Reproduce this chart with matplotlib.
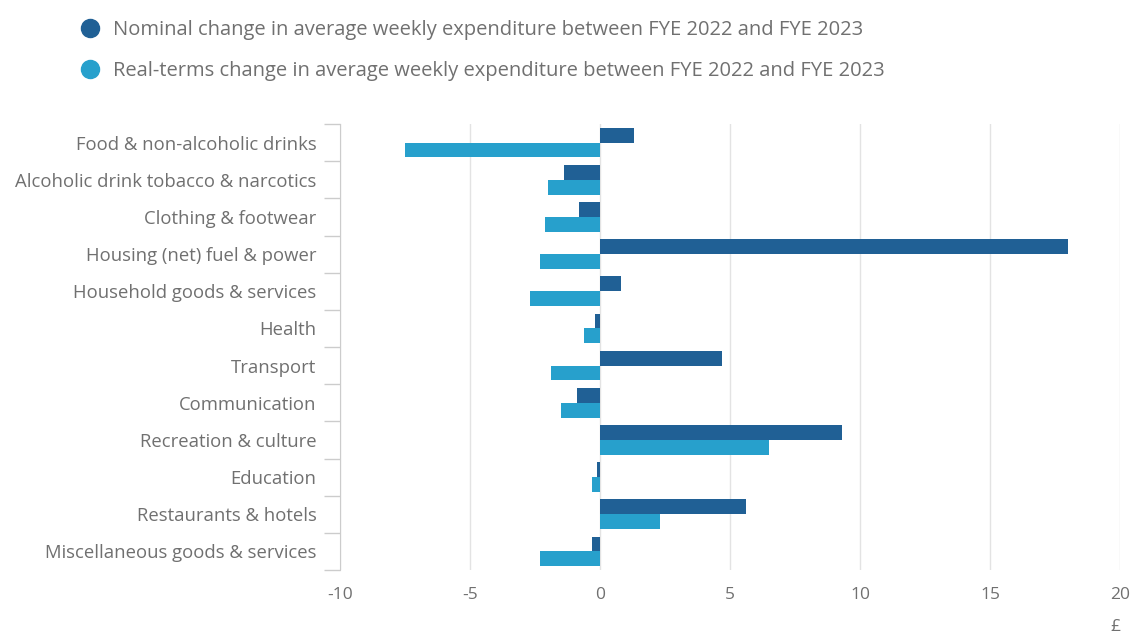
import numpy as np
import matplotlib.pyplot as plt
from matplotlib.lines import Line2D

plt.rcParams['font.family'] = ['Open Sans', 'DejaVu Sans']

# weekly expenditure change by COICOP category (£)
categories = [
    "Food & non-alcoholic drinks",
    "Alcoholic drink tobacco & narcotics",
    "Clothing & footwear",
    "Housing (net) fuel & power",
    "Household goods & services",
    "Health",
    "Transport",
    "Communication",
    "Recreation & culture",
    "Education",
    "Restaurants & hotels",
    "Miscellaneous goods & services",
]
nominal = [1.3, -1.4, -0.8, 18.0, 0.8, -0.2, 4.7, -0.9, 9.3, -0.1, 5.6, -0.3]
real = [-7.5, -2.0, -2.1, -2.3, -2.7, -0.6, -1.9, -1.5, 6.5, -0.3, 2.3, -2.3]

series_labels = [
    "Nominal change in average weekly expenditure between FYE 2022 and FYE 2023",
    "Real-terms change in average weekly expenditure between FYE 2022 and FYE 2023",
]
x_ticks = [-10, -5, 0, 5, 10, 15, 20]

dark = '#206095'
light = '#27a0cc'
grey = '#707070'

fig = plt.figure(figsize=(11.32, 6.37), dpi=100)
ax = fig.add_axes([340 / 1132, 1 - 570 / 637, 780 / 1132, 446 / 637])

y = np.arange(len(categories))
h = 0.4
ax.barh(y - h / 2, nominal, height=h, color=dark, zorder=3)
ax.barh(y + h / 2, real, height=h, color=light, zorder=3)

ax.set_xlim(-10, 20)
ax.set_ylim(len(categories) - 0.5, -0.5)
ax.set_xticks(x_ticks)
ax.set_xticklabels([str(t) for t in x_ticks])
ax.grid(axis='x', color='#e3e3e3', linewidth=1, zorder=0)

ax.set_yticks(y)
ax.set_yticklabels(categories)
ax.set_yticks(np.arange(len(categories) + 1) - 0.5, minor=True)
ax.tick_params(axis='y', which='major', length=0, pad=17, labelsize=13.3, labelcolor=grey)
ax.tick_params(axis='y', which='minor', length=11.5, color='#cccccc', width=1)
ax.tick_params(axis='x', length=0, pad=12, labelsize=12.5, labelcolor=grey)

for side in ['top', 'right', 'bottom']:
    ax.spines[side].set_visible(False)
ax.spines['left'].set_color('#cccccc')

ax.set_xlabel('£', loc='right', fontsize=12.5, color=grey, labelpad=12)

handles = [
    Line2D([], [], marker='o', linestyle='', markersize=13, color=dark),
    Line2D([], [], marker='o', linestyle='', markersize=13, color=light),
]
leg = fig.legend(handles, series_labels, loc='upper left',
                 bbox_to_anchor=(70 / 1132, 1 - 12 / 637), frameon=False,
                 fontsize=14.5, labelcolor=grey, handletextpad=0.55,
                 labelspacing=1.05, handlelength=1.2, borderaxespad=0)

fig.savefig('out.png', dpi=100, facecolor='white')
